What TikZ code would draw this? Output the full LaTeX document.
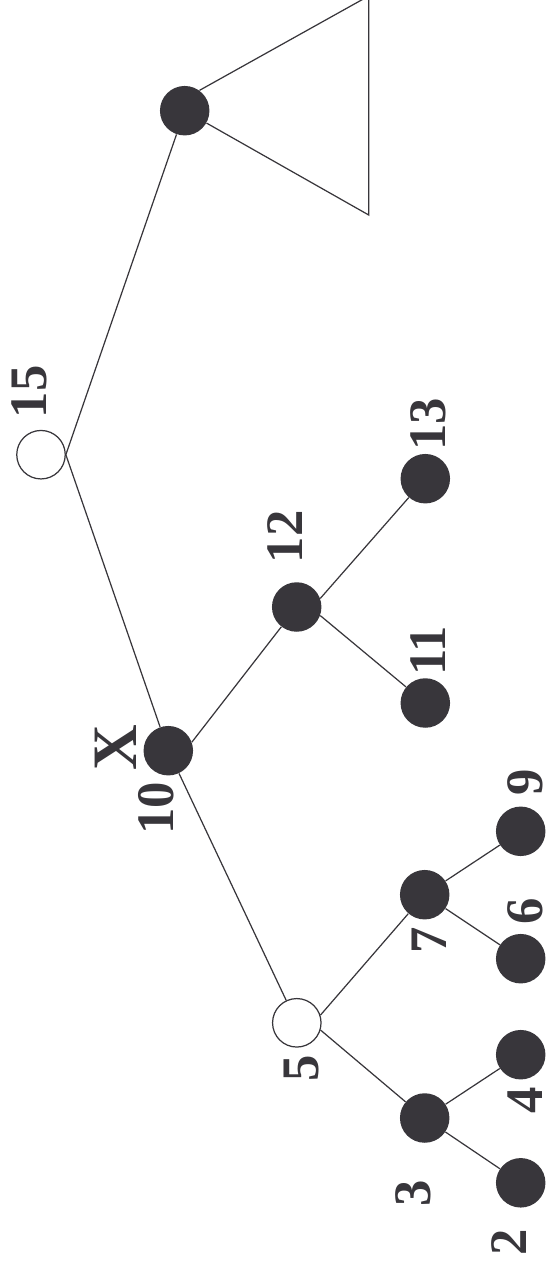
\documentclass[tikz,border=0pt]{standalone}
\usepackage{fontspec}
\setmainfont{Liberation Serif}
\usepackage{tikz}
\definecolor{ink}{HTML}{38363B}

\begin{document}
\begin{tikzpicture}[x=0.02cm,y=-0.02cm,
  dot/.style={circle,fill=ink,inner sep=0pt,minimum size=0.99cm},
  hollow/.style={circle,draw=ink,fill=white,line width=0.7pt,inner sep=0pt,minimum size=0.97cm},
  lbl/.style={rotate=90,inner sep=0pt,text height=20.3pt,text depth=0pt,text=ink,font=\fontsize{30}{30}\selectfont\bfseries},
  edge/.style={draw=ink,line width=0.7pt}]
  \useasboundingbox (0,0) rectangle (548,1270);
  \node[dot] (nt) at (184.7,110.7) {};
  \node[hollow] (n15) at (41,454.7) {};
  \node[dot] (n10) at (168.3,750.7) {};
  \node[dot] (n12) at (296.7,607) {};
  \node[dot] (n13) at (425.3,478.7) {};
  \node[dot] (n11) at (425.3,703) {};
  \node[hollow] (n5) at (296.8,1022.8) {};
  \node[dot] (n7) at (424.7,894.7) {};
  \node[dot] (n9) at (520.7,831.3) {};
  \node[dot] (n6) at (520.7,958.7) {};
  \node[dot] (n3) at (424.7,1118) {};
  \node[dot] (n4) at (520.7,1054.7) {};
  \node[dot] (n2) at (520.7,1182.8) {};
  \coordinate (ttop) at (368.7,-4);
  \coordinate (tbot) at (368.7,215);
  % labels
  \node[lbl] (l15) at (28.3,391.7) {15};
  \node[lbl,text height=24.3pt,font=\fontsize{36}{36}\selectfont\bfseries] (lX) at (115,748) {X};
  \node[lbl] (l10) at (156,808) {10};
  \node[lbl] (l12) at (285,536.7) {12};
  \node[lbl] (l13) at (427.5,424) {13};
  \node[lbl] (l11) at (427.5,650.8) {11};
  \node[lbl] (l9) at (524.7,782.5) {9};
  \node[lbl] (l7) at (428.3,940) {7};
  \node[lbl] (l6) at (524.7,911) {6};
  \node[lbl] (l5) at (301,1068) {5};
  \node[lbl] (l4) at (524.7,1100) {4};
  \node[lbl] (l3) at (412.8,1193.5) {3};
  \node[lbl] (l2) at (509,1242) {2};
  % edges
  \draw[edge] (nt.54) -- (ttop) -- (tbot) -- (nt);
  \draw[edge] (n15.east) -- (nt);
  \draw[edge] (n15.east) -- (n10);
  \draw[edge] (n10.20) -- (n12);
  \draw[edge] (n10) -- (n5);
  \draw[edge] (n12.20) -- (n13);
  \draw[edge] (n12.-20) -- (n11);
  \draw[edge] (n5.18) -- (n7);
  \draw[edge] (n5.-17) -- (n3);
  \draw[edge] (n7) -- (n9);
  \draw[edge] (n7) -- (n6);
  \draw[edge] (n3) -- (n4);
  \draw[edge] (n3) -- (n2);
\end{tikzpicture}
\end{document}
